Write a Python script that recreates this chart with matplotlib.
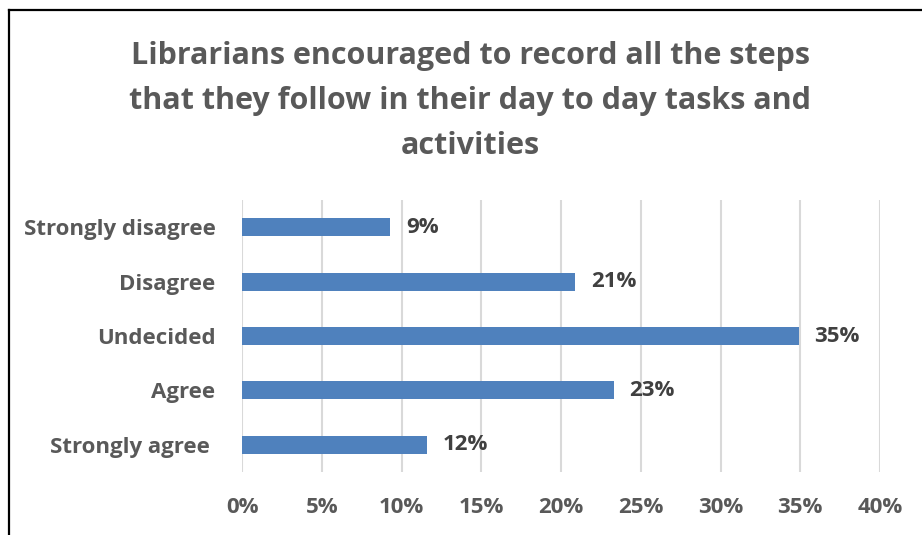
import matplotlib
matplotlib.use("Agg")
import matplotlib.pyplot as plt
from matplotlib.lines import Line2D

categories = ["Strongly disagree", "Disagree", "Undecided", "Agree", "Strongly agree "]
values = [9.3, 20.9, 34.9, 23.3, 11.6]
xticks = [0, 5, 10, 15, 20, 25, 30, 35, 40]
title = "Librarians encouraged to record all the steps\nthat they follow in their day to day tasks and\nactivities"

plt.rcParams["font.family"] = ["Open Sans", "DejaVu Sans"]
plt.rcParams["font.weight"] = "bold"

W, H = 922, 535
fig = plt.figure(figsize=(W / 100, H / 100), dpi=100)
ax = fig.add_axes([242 / W, 1 - 472 / H, 638 / W, 272 / H])

ypos = list(range(len(categories)))
ax.barh(ypos, values, height=0.33, color="#4F81BD", zorder=3)
for y, v in zip(ypos, values):
    ax.text(v + 1.0, y, f"{round(v):d}%", va="center", ha="left",
            fontsize=16, fontweight="bold", color="#404040")

ax.set_xlim(0, 40)
ax.set_ylim(4.5, -0.5)
ax.set_xticks(xticks)
ax.set_xticklabels([f"{t}%" for t in xticks])
ax.set_yticks(ypos)
ax.set_yticklabels(categories)
ax.tick_params(axis="both", length=0, labelsize=16, labelcolor="#595959")
ax.tick_params(axis="x", pad=18)
ax.tick_params(axis="y", pad=19)
for lab in ax.get_xticklabels() + ax.get_yticklabels():
    lab.set_fontweight("bold")
ax.grid(axis="x", color="#D9D9D9", linewidth=1.5, zorder=0)
for s in ax.spines.values():
    s.set_visible(False)

fig.text(470 / W, 1 - 101 / H, title, ha="center", va="center",
         fontsize=22, fontweight="bold", color="#595959", linespacing=1.66)

# outer chart frame (top and left edges)
fig.add_artist(Line2D([8.5 / W, 1.0], [1 - 9.5 / H, 1 - 9.5 / H],
                      transform=fig.transFigure, color="black", linewidth=1.6))
fig.add_artist(Line2D([8.5 / W, 8.5 / W], [0, 1 - 9.5 / H],
                      transform=fig.transFigure, color="black", linewidth=1.6))

fig.savefig("out.png", dpi=100, facecolor="white")
